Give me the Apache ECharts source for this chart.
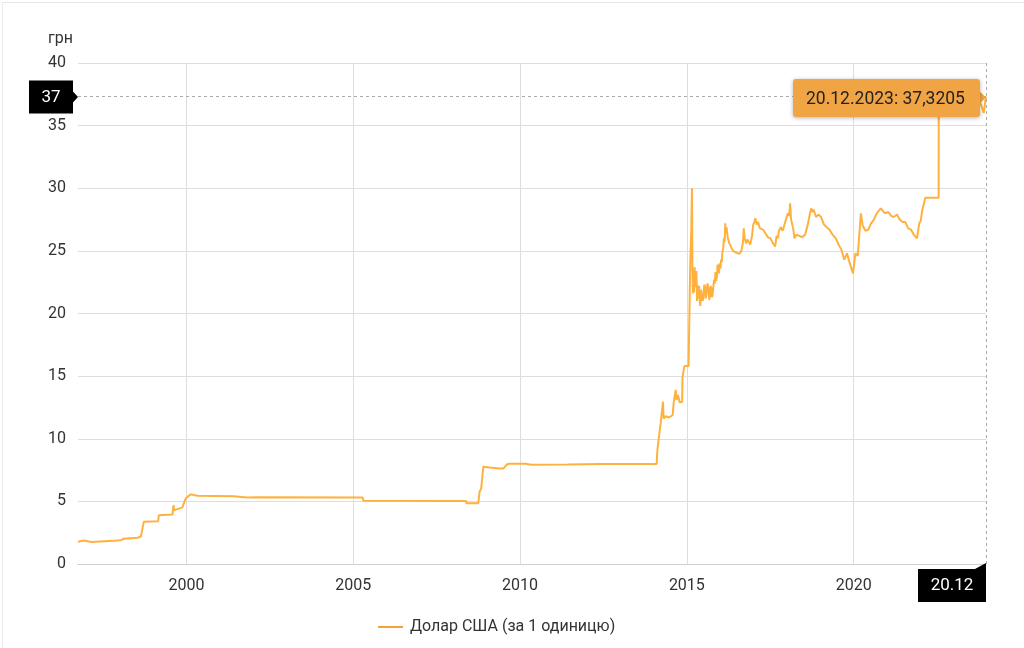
<!DOCTYPE html>
<html>
<head>
<meta charset="utf-8">
<title>Курс долара США</title>
<script src="https://cdn.jsdelivr.net/npm/echarts@6/dist/echarts.min.js"></script>
<style>
html, body { margin: 0; padding: 0; background: #fff; }
.frame {
	position: absolute; left: 2px; top: 2px; right: 0; bottom: 0;
	border-top: 1px solid #e6e6e6; border-left: 1px solid #ececec;
}
#chart { position: relative; width: 1024px; height: 648px; }
</style>
</head>
<body>
<div class="frame"></div>
<div id="chart"></div>
<script>
// курс гривні до долара США
const seriesName = 'Долар США (за 1 одиницю)'
const dates = [
	'1996-10-01', '1996-12-01', '1997-03-01', '1997-06-01', '1997-12-01', '1998-01-15',
	'1998-02-15', '1998-07-15', '1998-08-20', '1998-09-22', '1999-02-25', '1999-03-05',
	'1999-08-01', '1999-08-12', '1999-08-20', '1999-11-15', '1999-12-25', '2000-02-15',
	'2000-04-30', '2001-06-01', '2001-11-01', '2002-03-01', '2005-04-15', '2005-04-22',
	'2008-05-20', '2008-05-25', '2008-10-01', '2008-10-15', '2008-11-01', '2008-11-25',
	'2009-02-01', '2009-05-15', '2009-07-01', '2009-08-10', '2009-09-01', '2010-03-01',
	'2010-05-01', '2011-06-01', '2012-06-01', '2014-02-05', '2014-02-10', '2014-02-20',
	'2014-03-20', '2014-04-15', '2014-04-22', '2014-05-15', '2014-06-20', '2014-07-30',
	'2014-08-10', '2014-09-01', '2014-09-10', '2014-09-25', '2014-10-15', '2014-11-10',
	'2014-11-15', '2014-12-05', '2015-01-20', '2015-02-05', '2015-02-07', '2015-02-18',
	'2015-02-26', '2015-03-03', '2015-03-08', '2015-03-14', '2015-03-20', '2015-03-27',
	'2015-04-01', '2015-04-05', '2015-04-10', '2015-04-15', '2015-04-22', '2015-04-28',
	'2015-05-04', '2015-05-10', '2015-05-16', '2015-05-22', '2015-05-28', '2015-06-05',
	'2015-06-15', '2015-06-22', '2015-07-01', '2015-07-10', '2015-07-20', '2015-07-28',
	'2015-08-05', '2015-08-15', '2015-08-25', '2015-09-03', '2015-09-10', '2015-09-18',
	'2015-09-25', '2015-10-03', '2015-10-10', '2015-10-18', '2015-10-25', '2015-11-03',
	'2015-11-10', '2015-11-18', '2015-11-25', '2015-12-03', '2015-12-10', '2015-12-18',
	'2015-12-25', '2016-01-05', '2016-01-10', '2016-01-18', '2016-01-25', '2016-02-03',
	'2016-02-10', '2016-02-18', '2016-02-25', '2016-03-01', '2016-03-05', '2016-03-10',
	'2016-03-15', '2016-03-25', '2016-04-10', '2016-05-01', '2016-05-20', '2016-06-10',
	'2016-07-10', '2016-08-01', '2016-08-20', '2016-09-05', '2016-09-12', '2016-09-15',
	'2016-09-25', '2016-10-10', '2016-10-25', '2016-11-05', '2016-11-25', '2016-12-15',
	'2016-12-22', '2016-12-28', '2017-01-10', '2017-01-20', '2017-02-05', '2017-02-20',
	'2017-03-10', '2017-03-25', '2017-04-15', '2017-05-10', '2017-06-05', '2017-07-05',
	'2017-08-01', '2017-08-25', '2017-09-10', '2017-09-25', '2017-10-05', '2017-10-25',
	'2017-11-15', '2017-12-05', '2017-12-15', '2018-01-10', '2018-01-25', '2018-02-05',
	'2018-02-15', '2018-03-10', '2018-03-25', '2018-04-15', '2018-05-01', '2018-06-15',
	'2018-07-20', '2018-08-20', '2018-09-10', '2018-09-25', '2018-10-05', '2018-10-20',
	'2018-11-15', '2018-12-10', '2019-01-10', '2019-02-10', '2019-03-10', '2019-04-10',
	'2019-05-15', '2019-06-20', '2019-07-20', '2019-08-20', '2019-09-20', '2019-10-20',
	'2019-11-20', '2019-12-25', '2020-01-20', '2020-02-15', '2020-03-20', '2020-04-10',
	'2020-05-10', '2020-06-10', '2020-07-10', '2020-08-10', '2020-09-10', '2020-10-25',
	'2020-11-15', '2020-12-10', '2021-01-15', '2021-02-15', '2021-03-15', '2021-04-20',
	'2021-05-20', '2021-06-20', '2021-07-20', '2021-08-20', '2021-09-20', '2021-10-20',
	'2021-11-25', '2021-12-20', '2022-01-05', '2022-01-20', '2022-02-10', '2022-02-24',
	'2022-07-20', '2022-07-21', '2023-10-02', '2023-10-20', '2023-11-10', '2023-11-25',
	'2023-12-05', '2023-12-12', '2023-12-20'
]
const rates = [
	1.78, 1.88, 1.76, 1.80, 1.87, 1.90,
	2.02, 2.10, 2.20, 3.38, 3.42, 3.90,
	3.95, 4.70, 4.30, 4.50, 5.25, 5.56,
	5.45, 5.40, 5.30, 5.33, 5.30, 5.05,
	5.03, 4.85, 4.86, 5.78, 6.00, 7.77,
	7.70, 7.62, 7.62, 7.95, 8.00, 8.00,
	7.93, 7.95, 7.99, 7.99, 8.84, 9.60,
	11.20, 12.96, 11.60, 11.80, 11.70, 11.90,
	12.90, 13.90, 13.10, 13.50, 12.90, 12.95,
	14.96, 15.80, 15.80, 15.90, 24.00, 26.50,
	30.00, 23.50, 21.60, 23.20, 21.70, 23.70,
	22.10, 22.00, 23.20, 23.40, 21.00, 22.30,
	21.20, 21.40, 22.20, 21.00, 20.60, 21.90,
	21.80, 21.00, 21.20, 22.30, 22.10, 21.20,
	21.30, 22.40, 22.00, 21.10, 21.40, 22.20,
	22.00, 21.30, 21.50, 22.10, 22.70, 22.40,
	23.30, 22.60, 22.90, 23.90, 23.80, 23.20,
	24.00, 23.60, 24.30, 24.10, 24.90, 25.20,
	26.00, 25.70, 27.20, 26.40, 26.30, 26.90,
	26.80, 26.00, 25.60, 25.30, 25.00, 24.85,
	24.80, 24.80, 25.00, 25.60, 26.30, 26.80,
	26.00, 25.60, 25.90, 25.90, 25.50, 26.20,
	26.70, 27.10, 27.30, 27.60, 27.10, 27.30,
	26.80, 26.90, 26.70, 26.40, 26.10, 26.00,
	25.60, 25.35, 26.20, 26.00, 26.60, 26.90,
	26.60, 27.10, 27.00, 28.00, 27.80, 28.80,
	27.50, 26.80, 26.00, 26.30, 26.20, 26.10,
	26.30, 27.20, 28.00, 28.40, 28.10, 28.30,
	27.70, 27.90, 27.70, 27.10, 26.90, 26.70,
	26.30, 26.00, 25.50, 25.10, 24.30, 24.80,
	24.00, 23.20, 24.80, 24.60, 28.00, 27.00,
	26.60, 26.70, 27.20, 27.50, 28.00, 28.40,
	28.30, 28.00, 28.10, 27.80, 27.70, 27.90,
	27.50, 27.30, 27.30, 26.80, 26.70, 26.30,
	26.00, 27.20, 27.40, 28.20, 28.80, 29.25,
	29.25, 36.57, 36.57, 36.80, 36.40, 36.00,
	36.50, 37.00, 37.3205
]
const yearTicks = [2000, 2005, 2010, 2015, 2020]
const yMin = 0
const yMax = 40
const yStep = 5
const xStart = '1996-10-01'
const lineColor = '#f4a13a'
const tipColor = '#f0a444'

function toYear(s) {
	let p = s.split('-').map(Number)
	let t0 = Date.UTC(p[0], 0, 1)
	let t1 = Date.UTC(p[0] + 1, 0, 1)
	return p[0] + (Date.UTC(p[0], p[1] - 1, p[2]) - t0) / (t1 - t0)
}
function fmtDate(s) {
	let p = s.split('-')
	return p[2] + '.' + p[1] + '.' + p[0]
}

const points = dates.map((d, i) => [toYear(d), rates[i]])
const last = points.length - 1
const xMin = toYear(xStart)
const xMax = points[last][0]

const chart = echarts.init(document.getElementById('chart'))
const font = 'Roboto, "Noto Sans", sans-serif'

chart.setOption({
	animation: false,
	textStyle: { fontFamily: font },
	grid: { left: 78, right: 38, top: 63, bottom: 84, containLabel: false },
	legend: {
		left: 373,
		bottom: 8,
		icon: 'rect',
		itemWidth: 25,
		itemHeight: 2,
		textStyle: { fontSize: 16, color: '#333', fontFamily: font, padding: [0, 0, 0, 2] },
		data: [seriesName]
	},
	tooltip: {
		trigger: 'axis',
		alwaysShowContent: true,
		transitionDuration: 0,
		backgroundColor: tipColor,
		borderColor: tipColor,
		borderWidth: 0,
		padding: [6, 15, 6, 13],
		textStyle: { color: '#222', fontSize: 17.5, fontFamily: font },
		extraCssText: 'border-radius:3px;box-shadow:0 1px 4px rgba(0,0,0,0.3);',
		axisPointer: {
			type: 'cross',
			label: { show: false },
			crossStyle: { color: '#aaa', type: [3, 3], width: 1 },
			lineStyle: { color: '#aaa', type: [3, 3], width: 1 }
		},
		position: function (pt, params, dom, rect, size) {
			return [pt[0] - size.contentSize[0] - 6, pt[1] - size.contentSize[1] / 2 + 1]
		},
		formatter: function (params) {
			let p = params[0]
			let v = String(p.value[1]).replace('.', ',')
			return fmtDate(dates[p.dataIndex]) + ': ' + v
		}
	},
	xAxis: {
		type: 'value',
		min: xMin,
		max: xMax,
		axisLine: { lineStyle: { color: '#cfcfcf' } },
		axisTick: { show: false, customValues: yearTicks },
		axisLabel: {
			customValues: yearTicks,
			color: '#333',
			fontSize: 16,
			margin: 14,
			formatter: v => String(Math.round(v))
		},
		splitLine: { show: true, lineStyle: { color: '#dedede' } }
	},
	yAxis: {
		type: 'value',
		min: yMin,
		max: yMax,
		interval: yStep,
		name: 'грн',
		nameLocation: 'end',
		nameGap: 16,
		nameTextStyle: { color: '#333', fontSize: 16, align: 'right', padding: [0, 5, 0, 0] },
		axisLine: { show: false },
		axisTick: { show: false },
		axisLabel: { color: '#333', fontSize: 16, margin: 12 },
		splitLine: { lineStyle: { color: '#dedede' } }
	},
	series: [{
		name: seriesName,
		type: 'line',
		data: points,
		showSymbol: false,
		symbol: 'none',
		color: lineColor,
		lineStyle: { width: 2, color: lineColor }
	}]
})

chart.dispatchAction({ type: 'showTip', seriesIndex: 0, dataIndex: last })

// мітки вказівника на осях і стрілка підказки
const pt = chart.convertToPixel({ gridIndex: 0 }, points[last])
const origin = chart.convertToPixel({ gridIndex: 0 }, [xMin, yMin])
const gx = origin[0]
const gy = origin[1]
chart.setOption({
	graphic: [
		{
			type: 'rect', z: 100,
			shape: { x: gx - 49, y: pt[1] - 16, width: 44, height: 33 },
			style: { fill: '#000' }
		},
		{
			type: 'polygon', z: 100,
			shape: { points: [[gx - 5, pt[1] - 5], [gx, pt[1] + 0.5], [gx - 5, pt[1] + 6]] },
			style: { fill: '#000' }
		},
		{
			type: 'text', z: 101,
			x: gx - 27, y: pt[1] + 1,
			style: { text: String(Math.round(rates[last])), fill: '#fff', fontSize: 17, fontFamily: font, align: 'center', verticalAlign: 'middle' }
		},
		{
			type: 'rect', z: 100,
			shape: { x: pt[0] - 68, y: gy + 5, width: 68, height: 33 },
			style: { fill: '#000' }
		},
		{
			type: 'polygon', z: 100,
			shape: { points: [[pt[0] - 11, gy + 5], [pt[0], gy - 1], [pt[0], gy + 5]] },
			style: { fill: '#000' }
		},
		{
			type: 'text', z: 101,
			x: pt[0] - 34, y: gy + 22,
			style: { text: fmtDate(dates[last]).slice(0, 5), fill: '#fff', fontSize: 17, fontFamily: font, align: 'center', verticalAlign: 'middle' }
		},
		{
			type: 'polygon', z: 100,
			shape: { points: [[pt[0] - 7, pt[1] - 6], [pt[0], pt[1] + 1], [pt[0] - 7, pt[1] + 8]] },
			style: { fill: tipColor }
		}
	]
})
</script>
</body>
</html>
